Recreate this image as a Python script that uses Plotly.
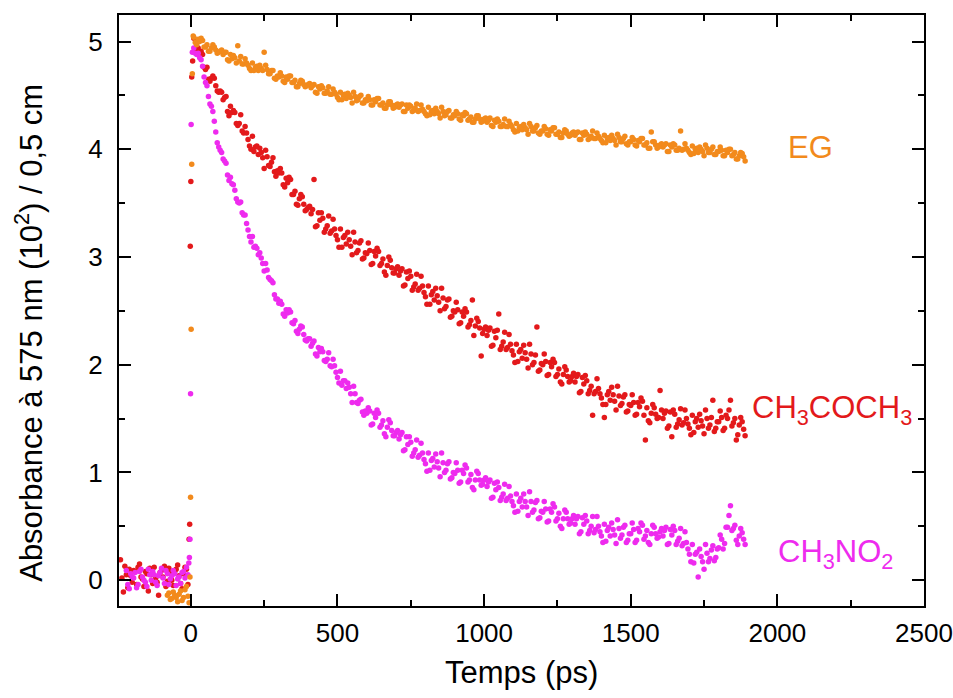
import plotly.graph_objects as go

# ---------------- data ----------------
# two interleaved time grids of the decays after the pulse (ps)
T_MAIN = list(range(10, 1900, 10))
T_MID = list(range(15, 1890, 10))

# --- EG (ethylene glycol) ---
eg_t_pre = [-80, -70, -60, -50, -40, -30, -20, -10, -6, -3, -1, 1, 3, 5, 8,
            -75, -65, -55, -45, -35, -25, -15]
eg_y_pre = [-0.14, -0.18, -0.11, -0.16, -0.13, -0.19, -0.09, -0.15,
            -0.21, 0.03, 0.77, 2.33, 3.86, 4.70, 5.05,
            -0.12, -0.17, -0.14, -0.20, -0.10, -0.16, -0.06]
eg_y_main = [
    5.04, 4.97, 5.00, 5.01, 4.95, 4.91, 4.94, 4.95, 4.89, 4.91,
    4.88, 4.90, 4.82, 4.84, 4.85, 4.96, 4.86, 4.79, 4.80, 4.75,
    4.80, 4.76, 4.73, 4.75, 4.90, 4.74, 4.70, 4.73, 4.65, 4.67,
    4.68, 4.62, 4.65, 4.68, 4.62, 4.58, 4.61, 4.63, 4.58, 4.60,
    4.57, 4.60, 4.52, 4.56, 4.57, 4.52, 4.58, 4.51, 4.53, 4.48,
    4.53, 4.50, 4.47, 4.50, 4.43, 4.49, 4.46, 4.50, 4.43, 4.45,
    4.46, 4.41, 4.44, 4.47, 4.41, 4.38, 4.41, 4.44, 4.38, 4.41,
    4.39, 4.42, 4.35, 4.38, 4.40, 4.36, 4.42, 4.36, 4.37, 4.33,
    4.39, 4.35, 4.33, 4.35, 4.29, 4.35, 4.32, 4.36, 4.29, 4.31,
    4.33, 4.27, 4.31, 4.33, 4.28, 4.25, 4.28, 4.31, 4.25, 4.28,
    4.25, 4.29, 4.21, 4.25, 4.26, 4.21, 4.28, 4.21, 4.23, 4.18,
    4.24, 4.20, 4.18, 4.20, 4.14, 4.21, 4.17, 4.22, 4.14, 4.17,
    4.19, 4.13, 4.17, 4.20, 4.14, 4.11, 4.15, 4.17, 4.12, 4.15,
    4.13, 4.16, 4.09, 4.13, 4.14, 4.10, 4.17, 4.10, 4.12, 4.08,
    4.13, 4.10, 4.08, 4.10, 4.04, 4.11, 4.07, 4.12, 4.04, 4.07,
    4.09, 4.03, 4.07, 4.10, 4.04, 4.01, 4.16, 4.07, 4.01, 4.04,
    4.02, 4.05, 3.98, 4.02, 4.04, 3.99, 4.17, 4.00, 4.01, 3.97,
    4.03, 4.00, 3.97, 4.00, 3.94, 4.01, 3.97, 4.02, 3.95, 3.98,
    3.99, 3.94, 3.97, 4.00, 3.95, 3.91, 3.94, 3.96, 3.89,
]
eg_y_mid = [
    4.99, 5.02, 5.03, 4.95, 4.97, 4.91, 4.97, 4.92, 4.90, 4.92,
    4.90, 4.83, 4.88, 4.87, 4.80, 4.82, 4.79, 4.84, 4.78, 4.73,
    4.73, 4.77, 4.78, 4.73, 4.78, 4.70, 4.73, 4.66, 4.68, 4.71,
    4.63, 4.67, 4.68, 4.62, 4.64, 4.58, 4.64, 4.60, 4.59, 4.61,
    4.59, 4.53, 4.58, 4.59, 4.52, 4.54, 4.51, 4.56, 4.51, 4.46,
    4.46, 4.51, 4.52, 4.48, 4.53, 4.45, 4.49, 4.43, 4.46, 4.49,
    4.41, 4.46, 4.47, 4.41, 4.43, 4.38, 4.44, 4.41, 4.39, 4.42,
    4.41, 4.35, 4.41, 4.41, 4.35, 4.38, 4.35, 4.41, 4.35, 4.31,
    4.32, 4.36, 4.38, 4.33, 4.39, 4.31, 4.35, 4.29, 4.32, 4.35,
    4.28, 4.32, 4.34, 4.27, 4.30, 4.25, 4.31, 4.28, 4.26, 4.29,
    4.27, 4.22, 4.27, 4.28, 4.21, 4.23, 4.21, 4.26, 4.21, 4.16,
    4.17, 4.21, 4.23, 4.18, 4.24, 4.17, 4.20, 4.15, 4.17, 4.21,
    4.14, 4.18, 4.20, 4.14, 4.16, 4.11, 4.18, 4.14, 4.13, 4.16,
    4.15, 4.09, 4.15, 4.16, 4.09, 4.12, 4.10, 4.15, 4.10, 4.06,
    4.06, 4.11, 4.13, 4.08, 4.14, 4.07, 4.10, 4.05, 4.07, 4.11,
    4.04, 4.08, 4.10, 4.04, 4.06, 4.01, 4.07, 4.04, 4.02, 4.05,
    4.04, 3.98, 4.04, 4.05, 3.99, 4.01, 3.99, 4.05, 3.99, 3.95,
    3.96, 4.01, 4.02, 3.98, 4.04, 3.97, 4.00, 3.95, 3.98, 4.02,
    3.94, 3.99, 4.00, 3.94, 3.97, 3.91, 3.97, 3.93,
]

# --- CH3COCH3 (acetone) ---
ac_t_pre = [-240, -230, -220, -210, -200, -190, -180, -170, -160, -150,
            -140, -130, -120, -110, -100, -90, -80, -70, -60, -50,
            -40, -30, -20, -10, -6, -4, -2, 0, 3, 6,
            -235, -225, -215, -205, -195, -185, -175, -165, -155, -145,
            -135, -125, -115, -105, -95, -85, -75, -65, -55, -45,
            -35, -25, -15]
ac_y_pre = [0.19, -0.11, 0.05, 0.10, -0.02, 0.08, 0.12, 0.03, -0.06, 0.06,
            0.11, -0.03, 0.02, -0.14, 0.09, 0.13, -0.01, 0.07, -0.05, 0.10,
            0.04, -0.08, 0.12, -0.04, 0.38, 0.52, 3.10, 3.70, 4.67, 4.82,
            0.02, 0.13, -0.07, 0.04, 0.09, -0.04, 0.15, 0.01, 0.08, -0.10,
            0.05, 0.12, -0.02, 0.07, 0.03, -0.06, 0.11, 0.00, 0.08, 0.14,
            -0.03, 0.06, 0.10]
ac_y_main = [
    5.03, 4.90, 4.90, 4.88, 4.74, 4.65, 4.66, 4.66, 4.54, 4.54,
    4.46, 4.49, 4.31, 4.34, 4.34, 4.22, 4.32, 4.15, 4.15, 4.03,
    4.12, 4.02, 3.95, 3.97, 3.82, 3.93, 3.84, 3.92, 3.75, 3.78,
    3.78, 3.65, 3.69, 3.72, 3.58, 3.49, 3.54, 3.56, 3.43, 3.46,
    3.40, 3.72, 3.29, 3.34, 3.36, 3.26, 3.38, 3.24, 3.26, 3.16,
    3.26, 3.18, 3.12, 3.16, 3.02, 3.14, 3.06, 3.15, 2.99, 3.03,
    3.06, 2.94, 3.01, 3.05, 2.94, 2.86, 2.92, 2.97, 2.85, 2.89,
    2.83, 2.89, 2.74, 2.80, 2.82, 2.72, 2.84, 2.71, 2.73, 2.63,
    2.73, 2.65, 2.60, 2.64, 2.50, 2.62, 2.54, 2.61, 2.45, 2.49,
    2.51, 2.39, 2.45, 2.49, 2.37, 2.60, 2.36, 2.40, 2.08, 2.33,
    2.27, 2.34, 2.18, 2.25, 2.47, 2.17, 2.30, 2.16, 2.19, 2.09,
    2.19, 2.12, 2.06, 2.11, 1.97, 2.10, 2.02, 2.35, 1.95, 2.00,
    2.03, 1.91, 1.98, 2.02, 1.91, 1.84, 1.91, 1.95, 1.84, 1.89,
    1.84, 1.91, 1.75, 1.82, 1.85, 1.76, 1.53, 1.75, 1.78, 1.69,
    1.51, 1.72, 1.67, 1.72, 1.58, 1.71, 1.64, 1.72, 1.57, 1.62,
    1.65, 1.54, 1.61, 1.66, 1.30, 1.48, 1.55, 1.60, 1.50, 1.76,
    1.50, 1.57, 1.43, 1.33, 1.54, 1.45, 1.59, 1.46, 1.50, 1.41,
    1.53, 1.47, 1.42, 1.48, 1.36, 1.50, 1.44, 1.67, 1.41, 1.47,
    1.51, 1.41, 1.50, 1.67, 1.46, 1.30, 1.44, 1.47, 1.34,
]
ac_y_mid = [
    4.93, 4.94, 4.91, 4.76, 4.76, 4.63, 4.68, 4.59, 4.53, 4.53,
    4.48, 4.35, 4.40, 4.36, 4.24, 4.24, 4.17, 4.21, 4.09, 4.00,
    3.98, 4.03, 4.01, 3.92, 3.99, 3.85, 3.88, 3.79, 3.80, 3.82,
    3.67, 3.73, 3.74, 3.58, 3.61, 3.48, 3.58, 3.49, 3.44, 3.47,
    3.44, 3.28, 3.41, 3.41, 3.23, 3.29, 3.22, 3.35, 3.20, 3.09,
    3.09, 3.20, 3.23, 3.10, 3.23, 3.04, 3.13, 2.98, 3.04, 3.13,
    2.93, 3.05, 3.08, 2.92, 2.98, 2.83, 3.00, 2.90, 2.85, 2.91,
    2.87, 2.73, 2.86, 2.87, 2.69, 2.75, 2.69, 2.82, 2.67, 2.56,
    2.56, 2.68, 2.71, 2.58, 2.71, 2.52, 2.60, 2.44, 2.50, 2.58,
    2.38, 2.49, 2.52, 2.35, 2.41, 2.27, 2.43, 2.34, 2.29, 2.35,
    2.32, 2.17, 2.31, 2.32, 2.14, 2.21, 2.14, 2.28, 2.13, 2.02,
    2.03, 2.14, 2.18, 2.05, 2.19, 2.00, 2.09, 1.94, 2.01, 2.10,
    1.90, 2.02, 2.05, 1.89, 1.96, 1.82, 1.98, 1.89, 1.85, 1.92,
    1.89, 1.74, 1.88, 1.90, 1.73, 1.80, 1.73, 1.87, 1.73, 1.63,
    1.63, 1.75, 1.79, 1.66, 1.80, 1.62, 1.70, 1.56, 1.63, 1.72,
    1.53, 1.65, 1.69, 1.53, 1.60, 1.46, 1.63, 1.54, 1.51, 1.58,
    1.55, 1.41, 1.56, 1.58, 1.42, 1.49, 1.44, 1.58, 1.45, 1.35,
    1.37, 1.50, 1.54, 1.43, 1.58, 1.41, 1.51, 1.38, 1.47, 1.57,
    1.39, 1.53, 1.58, 1.43, 1.50, 1.35, 1.51, 1.40,
]

# --- CH3NO2 (nitromethane) ---
nm_t_pre = [-220, -210, -200, -190, -180, -170, -160, -150, -140, -130,
            -120, -110, -100, -90, -80, -70, -60, -50, -40, -30,
            -20, -10, -7, -5, -3, -1, 1, 5,
            -215, -205, -195, -185, -175, -165, -155, -145, -135, -125,
            -115, -105, -95, -85, -75, -65, -55, -45, -35, -25, -15]
nm_y_pre = [0.09, -0.08, 0.03, 0.07, -0.04, 0.10, 0.00, -0.06, 0.05, 0.08,
            -0.02, 0.04, 0.11, -0.03, 0.06, 0.01, 0.09, -0.05, 0.03, 0.07,
            0.02, 0.05, 0.16, 0.21, 0.38, 1.73, 4.23, 4.90,
            -0.04, 0.06, 0.02, -0.07, 0.08, 0.03, -0.02, 0.10, 0.00, 0.05,
            -0.05, 0.07, 0.02, 0.09, -0.04, 0.04, 0.06, 0.01, -0.03, 0.08, 0.12]
nm_y_main = [
    4.94, 4.88, 4.85, 4.77, 4.62, 4.49, 4.40, 4.26, 4.06, 3.99,
    3.91, 3.87, 3.71, 3.68, 3.62, 3.51, 3.51, 3.39, 3.31, 3.19,
    3.19, 3.10, 3.02, 2.99, 2.87, 2.88, 2.79, 2.76, 2.61, 2.57,
    2.56, 2.45, 2.48, 2.49, 2.38, 2.31, 2.33, 2.35, 2.23, 2.24,
    2.17, 2.22, 2.08, 2.12, 2.12, 2.03, 2.11, 1.98, 1.99, 1.88,
    1.94, 1.85, 1.78, 1.79, 1.65, 1.73, 1.64, 1.68, 1.53, 1.55,
    1.57, 1.45, 1.51, 1.55, 1.44, 1.36, 1.42, 1.46, 1.34, 1.37,
    1.31, 1.37, 1.21, 1.26, 1.28, 1.18, 1.30, 1.16, 1.18, 1.08,
    1.18, 1.11, 1.05, 1.10, 0.96, 1.09, 1.02, 1.10, 0.95, 0.99,
    1.02, 0.91, 0.99, 1.04, 0.93, 0.86, 0.93, 0.99, 0.88, 0.93,
    0.87, 0.93, 0.77, 0.84, 0.86, 0.77, 0.89, 0.76, 0.78, 0.69,
    0.80, 0.73, 0.68, 0.73, 0.60, 0.73, 0.65, 0.74, 0.58, 0.63,
    0.66, 0.55, 0.63, 0.68, 0.57, 0.50, 0.57, 0.63, 0.52, 0.57,
    0.52, 0.59, 0.45, 0.52, 0.55, 0.46, 0.59, 0.47, 0.50, 0.41,
    0.52, 0.46, 0.41, 0.47, 0.34, 0.48, 0.42, 0.51, 0.37, 0.43,
    0.47, 0.37, 0.45, 0.51, 0.41, 0.35, 0.43, 0.49, 0.39, 0.45,
    0.41, 0.49, 0.34, 0.42, 0.46, 0.36, 0.48, 0.34, 0.35, 0.24,
    0.33, 0.24, 0.03, 0.22, 0.10, 0.25, 0.20, 0.32, 0.21, 0.30,
    0.38, 0.34, 0.49, 0.69, 0.48, 0.37, 0.41, 0.44, 0.33,
]
nm_y_mid = [
    4.89, 4.89, 4.83, 4.67, 4.59, 4.42, 4.35, 4.16, 4.02, 3.97,
    3.89, 3.76, 3.74, 3.67, 3.54, 3.50, 3.41, 3.39, 3.25, 3.14,
    3.09, 3.08, 3.04, 2.94, 2.94, 2.81, 2.78, 2.65, 2.61, 2.59,
    2.47, 2.51, 2.51, 2.39, 2.41, 2.29, 2.36, 2.28, 2.22, 2.24,
    2.20, 2.10, 2.16, 2.15, 2.04, 2.05, 1.99, 2.05, 1.93, 1.83,
    1.81, 1.85, 1.83, 1.73, 1.80, 1.65, 1.67, 1.56, 1.57, 1.60,
    1.44, 1.55, 1.58, 1.42, 1.48, 1.33, 1.49, 1.39, 1.34, 1.39,
    1.35, 1.20, 1.33, 1.33, 1.15, 1.21, 1.14, 1.27, 1.12, 1.01,
    1.02, 1.13, 1.17, 1.04, 1.18, 1.00, 1.08, 0.94, 1.00, 1.09,
    0.90, 1.02, 1.07, 0.91, 0.98, 0.84, 1.01, 0.93, 0.89, 0.95,
    0.91, 0.76, 0.90, 0.91, 0.74, 0.80, 0.74, 0.87, 0.73, 0.63,
    0.64, 0.76, 0.80, 0.68, 0.82, 0.63, 0.72, 0.57, 0.64, 0.73,
    0.54, 0.66, 0.71, 0.55, 0.62, 0.48, 0.65, 0.57, 0.53, 0.60,
    0.57, 0.43, 0.58, 0.60, 0.43, 0.50, 0.44, 0.59, 0.45, 0.35,
    0.36, 0.49, 0.53, 0.42, 0.56, 0.39, 0.49, 0.35, 0.43, 0.53,
    0.35, 0.48, 0.53, 0.38, 0.46, 0.33, 0.51, 0.43, 0.40, 0.48,
    0.46, 0.33, 0.47, 0.50, 0.33, 0.39, 0.32, 0.45, 0.29, 0.17,
    0.16, 0.26, 0.29, 0.17, 0.33, 0.17, 0.28, 0.18, 0.29, 0.42,
    0.29, 0.49, 0.60, 0.46, 0.51, 0.33, 0.48, 0.38,
]

COL_EG, COL_AC, COL_NM = "#F28A1C", "#E3191B", "#EE2BEE"
SERIES = [
    ("CH<sub>3</sub>COCH<sub>3</sub>", ac_t_pre, ac_y_pre, ac_y_main, ac_y_mid, COL_AC),
    ("CH<sub>3</sub>NO<sub>2</sub>", nm_t_pre, nm_y_pre, nm_y_main, nm_y_mid, COL_NM),
    ("EG", eg_t_pre, eg_y_pre, eg_y_main, eg_y_mid, COL_EG),
]

X_TICKS = [0, 500, 1000, 1500, 2000, 2500]
Y_TICKS = [0, 1, 2, 3, 4, 5]

# ---------------- figure ----------------
FONT = "Liberation Sans, Arial, sans-serif"
fig = go.Figure()
for name, tp, yp, ym, yd, col in SERIES:
    fig.add_trace(go.Scatter(
        x=tp + T_MAIN + T_MID, y=yp + ym + yd, mode="markers", name=name,
        marker=dict(size=5.5, color=col, line=dict(width=0)),
        showlegend=False,
    ))

labels = [
    ("EG", 2028, 4.02, COL_EG),
    ("CH<sub>3</sub>COCH<sub>3</sub>", 1905, 1.58, COL_AC),
    ("CH<sub>3</sub>NO<sub>2</sub>", 1994, 0.245, COL_NM),
]
for txt, x, y, col in labels:
    fig.add_annotation(x=x, y=y, text=txt, showarrow=False, xanchor="left",
                       yanchor="middle", font=dict(family=FONT, size=31, color=col))

# axis titles as annotations (the y title sits lower than the axis centre)
fig.add_annotation(xref="paper", yref="paper", x=-0.112, y=0.462,
                   text="Absorbance à 575 nm (10<sup>2</sup>) / 0,5 cm", textangle=-90,
                   showarrow=False, xanchor="center", yanchor="middle",
                   font=dict(family=FONT, size=31, color="black"))
fig.add_annotation(xref="paper", yref="paper", x=0.5, y=-0.1117,
                   text="Temps (ps)", showarrow=False, xanchor="center", yanchor="middle",
                   font=dict(family=FONT, size=31, color="black"))

axis_common = dict(
    showline=True, linecolor="black", linewidth=2, mirror="allticks",
    ticks="inside", ticklen=12, tickwidth=2, tickcolor="black",
    showgrid=False, zeroline=False,
    tickfont=dict(family=FONT, size=26, color="black"),
)
fig.update_xaxes(
    range=[-245, 2500], tickvals=X_TICKS, ticktext=[str(v) for v in X_TICKS],
    minor=dict(ticks="inside", ticklen=6, tickwidth=2, tickcolor="black", dtick=250, tick0=0),
    ticklabelstandoff=3,
    **axis_common,
)
fig.update_yaxes(
    range=[-0.24, 5.246], tickvals=Y_TICKS, ticktext=[str(v) for v in Y_TICKS],
    minor=dict(ticks="inside", ticklen=6, tickwidth=2, tickcolor="black", dtick=0.5, tick0=0),
    ticklabelstandoff=9,
    **axis_common,
)
fig.update_layout(
    width=953, height=698,
    margin=dict(l=119, r=29, t=15, b=92, autoexpand=False),
    plot_bgcolor="white", paper_bgcolor="white",
)
# remove the browser's default 8 px page margin so the figure fills the window
fig.write_html("out.html", config={"displayModeBar": False},
               post_script="document.body.style.margin='0';")
